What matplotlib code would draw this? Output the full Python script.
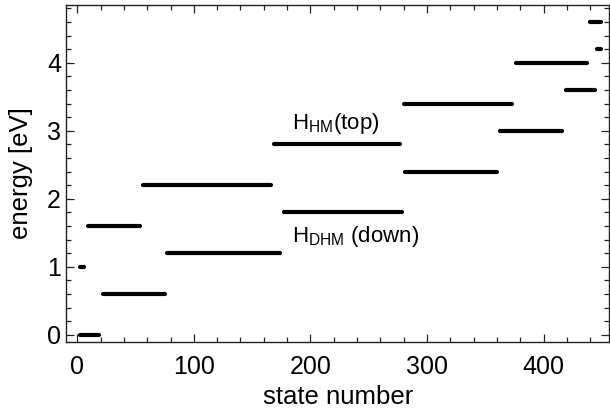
import matplotlib
matplotlib.use("Agg")
import matplotlib.pyplot as plt
from matplotlib.ticker import MultipleLocator

plt.rcParams['font.family'] = ['Liberation Sans', 'DejaVu Sans']
plt.rcParams['mathtext.fontset'] = 'custom'
plt.rcParams['mathtext.rm'] = 'Liberation Sans'

# ── Data: energy levels (eV) and the state-number range each one spans ───────
energies = [0.0, 1.0, 1.6, 0.6, 2.2, 1.2, 2.8, 1.8, 3.4, 2.4, 4.0, 3.0, 3.6, 4.6, 4.2]
state_from = [2, 2, 9, 22, 56, 77, 169, 177, 280, 281, 376, 363, 419, 440, 446]
state_to = [19, 6, 54, 75, 166, 174, 277, 279, 373, 360, 437, 416, 444, 449, 449]

fig = plt.figure(figsize=(6.10, 4.16), dpi=100)
ax = fig.add_axes([0.109, 0.179, 0.889, 0.809])

ax.hlines(energies, state_from, state_to, colors='black', linewidth=3.0,
          capstyle='round')

ax.set_xlim(-9.3, 456)
ax.set_ylim(-0.1, 4.85)

ax.xaxis.set_major_locator(MultipleLocator(100))
ax.xaxis.set_minor_locator(MultipleLocator(20))
ax.yaxis.set_major_locator(MultipleLocator(1))
ax.yaxis.set_minor_locator(MultipleLocator(0.2))

ax.tick_params(which='both', direction='in', top=True, right=True,
               labelsize=18, width=0.9, color='#222222')
ax.tick_params(which='major', length=5.5)
ax.tick_params(which='minor', length=3.5)
ax.tick_params(axis='x', pad=10)
ax.tick_params(axis='y', pad=4)
for s in ax.spines.values():
    s.set_linewidth(1.0)
    s.set_color('#222222')

ax.set_xlabel("state number", fontsize=18.5, labelpad=4)
ax.set_ylabel("energy [eV]", fontsize=18.5, labelpad=10)

ax.text(184, 3.025, r"H$_{\mathrm{HM}}$(top)", fontsize=16)
ax.text(184, 1.357, r"H$_{\mathrm{DHM}}$ (down)", fontsize=16)

fig.savefig("out.png", dpi=100)
